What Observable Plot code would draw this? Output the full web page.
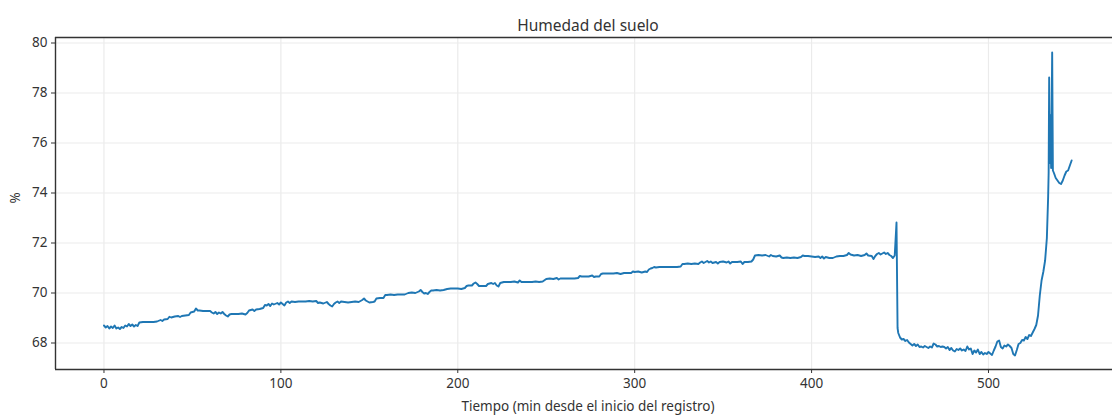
<!DOCTYPE html>
<html>
<head>
<meta charset="utf-8">
<script src="https://cdn.jsdelivr.net/npm/d3@7"></script>
<script src="https://cdn.jsdelivr.net/npm/@observablehq/plot@0.6"></script>
<style>
  html, body { margin: 0; padding: 0; background: #fff; overflow: hidden; }
  #chart svg { display: block; }
</style>
</head>
<body>
<div id="chart"></div>
<script>
// Soil moisture log: minutes since the start of recording and moisture in %
const minutes = [
  0, 1, 2, 3, 4, 5, 6, 7, 8, 9, 10, 11, 12, 13, 14, 15, 16, 17, 18, 19,
  20, 22, 24, 26, 28, 30, 32, 33, 34, 36, 37, 38, 40, 42, 43, 44, 46, 48, 49, 50,
  51, 52, 53, 54, 56, 58, 60, 61, 62, 63, 64, 65, 66, 67, 68, 69, 70, 71, 72, 74,
  76, 78, 80, 81, 82, 84, 85, 86, 88, 90, 91, 92, 93, 94, 95, 96, 98, 99, 100, 101,
  102, 103, 104, 105, 106, 108, 110, 112, 114, 116, 118, 120, 121, 122, 124, 126, 127, 128, 129, 130,
  131, 132, 133, 134, 136, 138, 140, 142, 144, 146, 147, 148, 150, 152, 153, 154, 156, 158, 159, 160,
  162, 164, 166, 168, 170, 172, 174, 176, 178, 179, 180, 181, 182, 183, 184, 185, 186, 188, 190, 192,
  194, 196, 198, 200, 202, 204, 205, 206, 208, 209, 210, 211, 212, 214, 216, 217, 218, 219, 220, 221,
  222, 223, 224, 226, 228, 230, 232, 234, 235, 236, 238, 240, 242, 244, 246, 248, 250, 252, 254, 256,
  257, 258, 260, 262, 264, 266, 268, 269, 270, 272, 274, 276, 277, 278, 280, 281, 282, 284, 286, 288,
  290, 292, 294, 296, 298, 299, 300, 302, 304, 306, 307, 308, 309, 310, 311, 312, 314, 316, 318, 320,
  322, 324, 326, 327, 328, 330, 332, 334, 336, 337, 338, 339, 340, 341, 342, 343, 344, 346, 347, 348,
  350, 352, 353, 354, 355, 356, 358, 360, 361, 362, 364, 366, 367, 368, 370, 372, 374, 376, 377, 378,
  380, 382, 383, 384, 386, 388, 390, 392, 394, 395, 396, 398, 400, 402, 404, 405, 406, 407, 408, 410,
  412, 414, 416, 418, 420, 421, 422, 424, 426, 428, 430, 431, 432, 434, 435, 436, 437, 438, 439, 440,
  441, 442, 443, 444, 445, 446, 447, 448, 448.6, 449, 450, 451, 452, 453, 454, 455, 456, 457, 458, 459,
  460, 461, 462, 463, 464, 465, 466, 467, 468, 469, 470, 471, 472, 473, 474, 475, 476, 477, 478, 479,
  480, 481, 482, 483, 484, 485, 486, 487, 488, 489, 490, 491, 492, 493, 494, 495, 496, 497, 498, 499,
  500, 501, 502, 503, 504, 505, 506, 507, 508, 509, 510, 511, 512, 513, 514, 515, 516, 517, 518, 519,
  520, 521, 522, 523, 524, 525, 526, 527, 528, 529, 530, 531, 532, 533, 533.7, 534, 534.3, 534.6, 535, 535.4,
  536, 536.4, 537, 538, 539, 540, 541, 542, 543, 544, 545, 546, 547
];

const humidity = [
  68.70, 68.62, 68.68, 68.58, 68.66, 68.60, 68.70, 68.58, 68.62, 68.56, 68.64, 68.60, 68.70, 68.66, 68.76, 68.68, 68.74, 68.66, 68.72, 68.68,
  68.82, 68.84, 68.84, 68.84, 68.84, 68.86, 68.92, 68.88, 68.94, 68.96, 69.05, 69.02, 69.06, 69.08, 69.04, 69.08, 69.10, 69.12, 69.22, 69.24,
  69.26, 69.38, 69.30, 69.30, 69.28, 69.28, 69.28, 69.22, 69.18, 69.24, 69.16, 69.22, 69.18, 69.24, 69.16, 69.10, 69.06, 69.14, 69.16, 69.16,
  69.16, 69.18, 69.14, 69.20, 69.30, 69.34, 69.28, 69.34, 69.36, 69.40, 69.52, 69.50, 69.56, 69.48, 69.58, 69.54, 69.60, 69.54, 69.62, 69.56,
  69.50, 69.62, 69.66, 69.60, 69.66, 69.64, 69.66, 69.66, 69.66, 69.68, 69.66, 69.68, 69.60, 69.62, 69.58, 69.64, 69.56, 69.50, 69.46, 69.56,
  69.62, 69.66, 69.60, 69.66, 69.64, 69.62, 69.64, 69.66, 69.64, 69.72, 69.78, 69.70, 69.62, 69.64, 69.66, 69.78, 69.80, 69.80, 69.92, 69.92,
  69.94, 69.92, 69.94, 69.94, 69.94, 70.00, 70.02, 70.00, 70.06, 70.12, 70.04, 69.98, 70.00, 69.96, 70.04, 70.10, 70.10, 70.12, 70.10, 70.12,
  70.16, 70.18, 70.18, 70.18, 70.16, 70.20, 70.28, 70.30, 70.30, 70.38, 70.42, 70.36, 70.28, 70.28, 70.28, 70.36, 70.38, 70.40, 70.36, 70.40,
  70.30, 70.26, 70.40, 70.44, 70.44, 70.44, 70.46, 70.42, 70.50, 70.44, 70.44, 70.44, 70.44, 70.46, 70.44, 70.46, 70.56, 70.58, 70.56, 70.60,
  70.54, 70.58, 70.58, 70.58, 70.58, 70.58, 70.60, 70.68, 70.66, 70.66, 70.66, 70.70, 70.64, 70.66, 70.66, 70.76, 70.78, 70.78, 70.78, 70.78,
  70.80, 70.76, 70.80, 70.80, 70.80, 70.86, 70.84, 70.86, 70.82, 70.86, 70.84, 70.94, 70.98, 71.00, 71.04, 71.02, 71.04, 71.04, 71.04, 71.04,
  71.04, 71.04, 71.06, 71.16, 71.16, 71.18, 71.16, 71.18, 71.16, 71.22, 71.26, 71.20, 71.24, 71.28, 71.22, 71.26, 71.20, 71.24, 71.18, 71.24,
  71.26, 71.22, 71.26, 71.18, 71.24, 71.24, 71.24, 71.26, 71.16, 71.24, 71.24, 71.26, 71.34, 71.50, 71.52, 71.50, 71.52, 71.46, 71.52, 71.48,
  71.46, 71.50, 71.42, 71.40, 71.42, 71.40, 71.42, 71.40, 71.44, 71.50, 71.48, 71.48, 71.46, 71.44, 71.46, 71.40, 71.46, 71.38, 71.44, 71.40,
  71.40, 71.46, 71.48, 71.48, 71.52, 71.60, 71.54, 71.50, 71.52, 71.48, 71.52, 71.58, 71.50, 71.48, 71.36, 71.48, 71.56, 71.60, 71.54, 71.58,
  71.62, 71.56, 71.60, 71.52, 71.48, 71.40, 71.50, 72.82, 68.60, 68.40, 68.22, 68.14, 68.16, 68.08, 68.12, 68.02, 67.96, 67.90, 67.96, 67.88,
  67.94, 67.84, 67.86, 67.82, 67.88, 67.84, 67.80, 67.86, 67.82, 67.98, 67.94, 67.86, 67.88, 67.84, 67.86, 67.84, 67.78, 67.84, 67.72, 67.80,
  67.70, 67.66, 67.76, 67.72, 67.78, 67.70, 67.74, 67.68, 67.86, 67.74, 67.78, 67.56, 67.70, 67.62, 67.74, 67.56, 67.64, 67.54, 67.60, 67.56,
  67.64, 67.58, 67.52, 67.70, 67.86, 68.06, 68.10, 67.84, 67.78, 67.90, 67.86, 67.94, 67.88, 67.80, 67.56, 67.50, 67.72, 67.96, 68.00, 68.12,
  68.10, 68.24, 68.16, 68.32, 68.28, 68.42, 68.56, 68.72, 69.10, 69.90, 70.50, 70.85, 71.30, 72.20, 73.80, 74.80, 78.62, 75.20, 77.10, 75.00,
  79.62, 74.90, 74.80, 74.60, 74.50, 74.40, 74.36, 74.50, 74.70, 74.86, 74.90, 75.10, 75.30
];

const xTicks = [0, 100, 200, 300, 400, 500];
const yTicks = [68, 70, 72, 74, 76, 78, 80];

const titleText = "Humedad del suelo";
const xLabelText = "Tiempo (min desde el inicio del registro)";
const yLabelText = "%";

const records = minutes.map((t, i) => ({t, v: humidity[i]}));

// axis extents padded around the data, right side runs past the window edge
const xDomain = [-27.4, 570.1];
const yDomain = [66.94, 80.22];

const ink = "#333";
const gridColor = "#ebebeb";

const chart = Plot.plot({
  width: 1112,
  height: 419,
  marginTop: 37,
  marginLeft: 55,
  marginRight: 0,
  marginBottom: 50,
  style: {fontFamily: "'Noto Sans', 'Open Sans', sans-serif", fontSize: "13.5px", color: ink, background: "#fff"},
  x: {domain: xDomain},
  y: {domain: yDomain},
  marks: [
    Plot.gridX(xTicks, {stroke: gridColor, strokeOpacity: 1, strokeWidth: 1.2}),
    Plot.gridY(yTicks, {stroke: gridColor, strokeOpacity: 1, strokeWidth: 1.2}),
    Plot.line(records, {x: "t", y: "v", stroke: "#1f77b4", strokeWidth: 1.9, strokeLinejoin: "round"}),
    Plot.ruleX([xDomain[0]], {stroke: ink, strokeWidth: 1.4}),
    Plot.ruleY([yDomain[0]], {stroke: ink, strokeWidth: 1.4}),
    Plot.ruleY([yDomain[1]], {stroke: ink, strokeWidth: 1.4}),
    Plot.axisX(xTicks, {label: null, tickSize: 4, tickPadding: 5, stroke: ink, fill: ink, fontSize: 13.5}),
    Plot.axisY(yTicks, {label: null, tickSize: 4, tickPadding: 4, stroke: ink, fill: ink, fontSize: 13.5}),
    Plot.text([titleText], {frameAnchor: "top", dx: 4, dy: -18, fontSize: 15.5, fill: ink}),
    Plot.text([xLabelText], {frameAnchor: "bottom", dx: 4, dy: 41, fontSize: 13.5, fill: ink}),
    Plot.text([yLabelText], {frameAnchor: "left", dx: -40, rotate: -90, fontSize: 13.5, fill: ink})
  ]
});

document.getElementById("chart").appendChild(chart);
</script>
</body>
</html>
